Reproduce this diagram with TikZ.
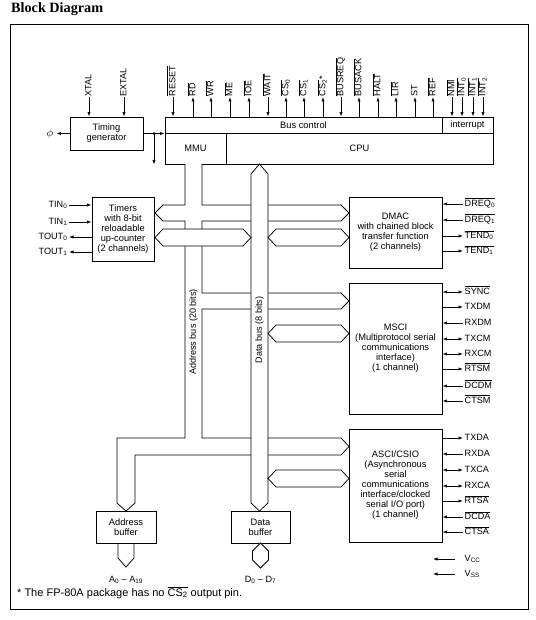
\documentclass[tikz,border=0pt]{standalone}
\usepackage{fontspec}
\setmainfont{Liberation Sans}
\newfontfamily\titlefont{Liberation Serif}
\usepackage{tikz}
\usetikzlibrary{arrows.meta}
\newcommand{\ovl}[1]{\ensuremath{\overline{\mbox{#1}}}}
% hexagonal two-way bus: left x, right x, middle y
\newcommand{\hexbus}[3]{\draw[bus] (#1,#3) -- (#1+8,#3-8.5) -- (#2-8,#3-8.5) -- (#2,#3) -- (#2-8,#3+8.5) -- (#1+8,#3+8.5) -- cycle;}
\tikzset{
  blk/.style={draw, line width=0.9pt, inner sep=0pt, align=center, font=\fontsize{9.3}{10}\selectfont},
  sig/.style={font=\fontsize{9.1}{10}\selectfont, inner sep=1.5pt, text height=6.6pt, text depth=1.7pt},
  vsig/.style={sig, inner sep=0.5pt, rotate=90, anchor=west},
  wire/.style={line width=0.7pt},
  sigin/.style={wire, -{Latex[length=4.5pt,width=3.2pt]}},
  sigout/.style={wire, {Latex[length=4.5pt,width=3.2pt]}-},
  sigbi/.style={wire, {Latex[length=4.5pt,width=3.2pt]}-{Latex[length=4.5pt,width=3.2pt]}},
  bus/.style={line width=0.75pt, fill=white},
}

\begin{document}
\begin{tikzpicture}[x=1pt,y=-1pt]
  \useasboundingbox (0,0) rectangle (535,620);
  \node[anchor=base west, inner sep=0pt, font=\titlefont\bfseries\fontsize{14.2}{16}\selectfont] (title) at (11,13) {Block Diagram};
  \draw[line width=0.9pt] (10,24) rectangle (528,609);

  % Timing generator and CPU
  \node[blk, minimum width=73pt, minimum height=33pt] (tgen) at (106.5,133.5) {Timing\\generator};
  \node[blk, minimum width=277pt, minimum height=16pt] (buscon) at (303.5,125) {Bus control};
  \node[blk, minimum width=51pt, minimum height=16pt] (intr) at (467.5,125) {interrupt};
  \node[blk, minimum width=61pt, minimum height=31pt] (mmu) at (195.5,148.5) {MMU};
  \node[blk, minimum width=267pt, minimum height=31pt] (cpu) at (359.5,148.5) {CPU};

  % Peripherals
  \node[blk, minimum width=62pt, minimum height=64pt] (timers) at (123,229) {Timers\\with 8-bit\\reloadable\\up-counter\\(2 channels)};
  \node[blk, minimum width=93pt, minimum height=71pt] (dmac) at (395.5,232.5) {DMAC\\with chained block\\transfer function\\(2 channels)};
  \node[blk, minimum width=93pt, minimum height=131pt] (msci) at (395.5,348.5) {MSCI\\(Multiprotocol serial\\communications\\interface)\\(1 channel)};
  \node[blk, minimum width=93pt, minimum height=113pt] (asci) at (395.5,485.5) {ASCI/CSIO\\(Asynchronous\\serial\\communications\\interface/clocked\\serial I/O port)\\(1 channel)};
  \node[blk, minimum width=60pt, minimum height=32pt] (abuf) at (126,527) {Address\\buffer};
  \node[blk, minimum width=59pt, minimum height=32pt] (dbuf) at (260.5,527) {Data\\buffer};

  % Address bus (20 bits)
  \draw[bus] (185,164) -- (185,205) -- (163,205) -- (155,213) -- (163,221) -- (185,221)
    -- (185,438) -- (117,438) -- (117,503) -- (126,511) -- (135,503) -- (135,455)
    -- (341,455) -- (349,446.5) -- (341,438) -- (202,438)
    -- (202,309) -- (341,309) -- (349,301) -- (341,293) -- (202,293)
    -- (202,221) -- (341,221) -- (349,213) -- (341,205) -- (202,205) -- (202,164);
  % Data bus (8 bits)
  \draw[bus] (251,174) -- (259.5,164) -- (268,174) -- (268,503) -- (259.5,511) -- (251,503) -- cycle;
  \hexbus{155}{251}{237.5}
  \hexbus{268}{349}{237.5}
  \hexbus{268}{349}{333.5}
  \hexbus{268}{349}{478.5}
  \node[sig, rotate=90] (abuslbl) at (193.5,332) {Address bus (20 bits)};
  \node[sig, rotate=90] (dbuslbl) at (259.5,330) {Data bus (8 bits)};

  % Buffer outputs
  \draw[bus, fill=none] (118,543) -- (118,558) -- (126,567) -- (134,558) -- (134,543);
  \draw[bus] (260.5,543) -- (268.5,551) -- (268.5,560) -- (260.5,568) -- (252.5,560) -- (252.5,551) -- cycle;
  \node[sig] (alab) at (126,580) {A\textsubscript{0} -- A\textsubscript{19}};
  \node[sig] (dlab) at (260.5,580) {D\textsubscript{0} -- D\textsubscript{7}};

  % Clock
  \node[vsig] (xtal) at (89,97) {XTAL};
  \node[vsig] (extal) at (124,97) {EXTAL};
  \draw[sigin] (xtal.west) -- (xtal.west |- tgen.north);
  \draw[sigin] (extal.west) -- (extal.west |- tgen.north);
  \node[inner sep=3pt, font=\fontsize{11}{12}\selectfont] (phi) at (50,133.5) {$\phi$};
  \draw[sigin] (tgen.west) -- (phi.east);
  \coordinate (clk) at (154,133.5);
  \draw[sigin] (tgen.east) -- (tgen.east -| buscon.west);
  \fill (clk) circle (1.5pt);
  \draw[sigin] (clk) -- (clk |- mmu.south);

  % CPU pins
  \foreach \x/\t/\s in {173/\ovl{RESET}/sigin, 193/\ovl{RD}/sigout, 211/\ovl{WR}/sigout,
      230/\ovl{ME}/sigout, 249/\ovl{IOE}/sigout, 268/\ovl{WAIT}/sigin,
      286/\ovl{CS\textsubscript{0}}/sigout, 304/\ovl{CS\textsubscript{1}}/sigout,
      323/\ovl{CS\textsubscript{2}}*/sigout, 341/\ovl{BUSREQ}/sigin, 359/\ovl{BUSACK}/sigout,
      378/\ovl{HALT}/sigout, 396/\ovl{LIR}/sigout, 415/ST/sigout, 433/\ovl{REF}/sigout}{
    \node[vsig] (top-\x) at (\x,97) {\t};
    \draw[\s] (top-\x.west) -- (top-\x.west |- buscon.north);
  }
  \foreach \x/\t in {452/\ovl{NMI}, 462/\ovl{INT\textsubscript{0}}, 473/\ovl{INT\textsubscript{1}}, 483/\ovl{INT\textsubscript{2}}}{
    \node[vsig] (top-\x) at (\x,97) {\t};
    \draw[sigin] (top-\x.west) -- (top-\x.west |- intr.north);
  }

  % Timer pins
  \foreach \y/\t/\s in {205/TIN\textsubscript{0}/sigin, 222/TIN\textsubscript{1}/sigin,
      237/TOUT\textsubscript{0}/sigout, 252/TOUT\textsubscript{1}/sigout}{
    \node[sig, anchor=east] (tl-\y) at (69,\y) {\t};
    \draw[\s] (tl-\y.east) -- (tl-\y.east -| timers.west);
  }

  % DMAC pins
  \foreach \y/\t/\s in {204/\ovl{DREQ\textsubscript{0}}/sigin, 220/\ovl{DREQ\textsubscript{1}}/sigin,
      236/\ovl{TEND\textsubscript{0}}/sigout, 251/\ovl{TEND\textsubscript{1}}/sigout}{
    \node[sig, anchor=west] (dm-\y) at (463,\y) {\t};
    \draw[\s] (dm-\y.west) -- (dm-\y.west -| dmac.east);
  }

  % MSCI pins
  \foreach \y/\t/\s in {292/\ovl{SYNC}/sigbi, 307/TXDM/sigout, 323/RXDM/sigin, 339/TXCM/sigbi,
      354/RXCM/sigbi, 369/\ovl{RTSM}/sigout, 386/\ovl{DCDM}/sigin, 401/\ovl{CTSM}/sigin}{
    \node[sig, anchor=west] (ms-\y) at (463,\y) {\t};
    \draw[\s] (ms-\y.west) -- (ms-\y.west -| msci.east);
  }

  % ASCI pins
  \foreach \y/\t/\s in {438/TXDA/sigout, 454/RXDA/sigin, 470/TXCA/sigbi, 486/RXCA/sigbi,
      501/\ovl{RTSA}/sigout, 517/\ovl{DCDA}/sigin, 532/\ovl{CTSA}/sigin}{
    \node[sig, anchor=west] (as-\y) at (463,\y) {\t};
    \draw[\s] (as-\y.west) -- (as-\y.west -| asci.east);
  }

  % Power
  \node[sig, anchor=west] (vcc) at (463,559) {V\textsubscript{CC}};
  \node[sig, anchor=west] (vss) at (463,574) {V\textsubscript{SS}};
  \coordinate (vcc-a) at (455,559);
  \coordinate (vcc-b) at (433,559);
  \coordinate (vss-a) at (455,574);
  \coordinate (vss-b) at (433,574);
  \draw[sigin] (vcc-a) -- (vcc-b);
  \draw[sigin] (vss-a) -- (vss-b);

  \node[anchor=base west, inner sep=0pt, font=\fontsize{11}{12}\selectfont] (note) at (17,596)
    {* The FP-80A package has no \ovl{CS\textsubscript{2}} output pin.};
\end{tikzpicture}
\end{document}
